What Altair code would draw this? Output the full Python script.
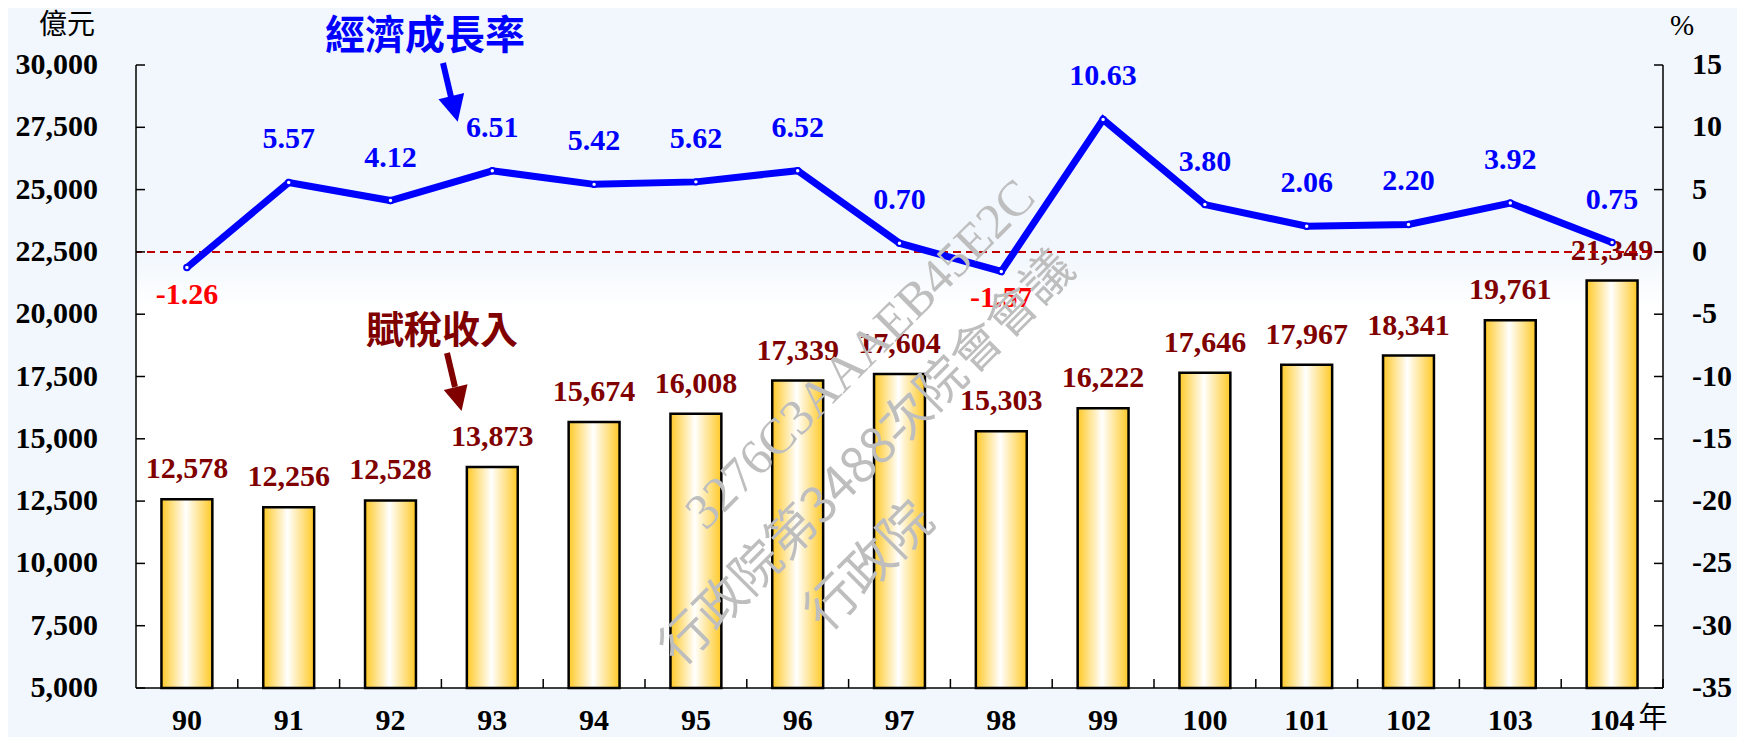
import altair as alt
import pandas as pd

# ---------------- data ----------------
years = ["90", "91", "92", "93", "94", "95", "96", "97", "98", "99", "100", "101", "102", "103", "104"]
revenue = [12578, 12256, 12528, 13873, 15674, 16008, 17339, 17604, 15303, 16222, 17646, 17967, 18341, 19761, 21349]
growth = [-1.26, 5.57, 4.12, 6.51, 5.42, 5.62, 6.52, 0.70, -1.57, 10.63, 3.80, 2.06, 2.20, 3.92, 0.75]
left_ticks = [5000, 7500, 10000, 12500, 15000, 17500, 20000, 22500, 25000, 27500, 30000]
right_ticks = [-35, -30, -25, -20, -15, -10, -5, 0, 5, 10, 15]
zero_line = [0]

W, H = 1527, 623
STEP = W / len(years)
SERIF = "Liberation Serif"
CJK = "Noto Sans CJK TC"

df = pd.DataFrame({"year": years, "revenue": revenue, "growth": growth})
df["rev_label"] = [f"{v:,}" for v in revenue]
df["g_label"] = [f"{v:.2f}" for v in growth]
df_pos = df[df["growth"] >= 0]
df_neg = df[df["growth"] < 0]
lt_df = pd.DataFrame({"v": left_ticks, "lab": [f"{v:,}" for v in left_ticks]})
rt_df = pd.DataFrame({"v": right_ticks, "lab": [str(v) for v in right_ticks]})

x_scale = alt.Scale(domain=years, paddingInner=0.5, paddingOuter=0.25)
left_scale = alt.Scale(domain=[5000, 30000], nice=False, zero=False)
right_scale = alt.Scale(domain=[-35, 15], nice=False, zero=False)

X = lambda **kw: alt.X("year:N", sort=years, scale=x_scale, axis=None, **kw)
YL = lambda f: alt.Y(f, scale=left_scale, axis=None)
YR = lambda f: alt.Y(f, scale=right_scale, axis=None)

one = pd.DataFrame({"k": [0]})

# ---------------- background band (white lower plot area) ----------------
bg = alt.Chart(one).mark_rect(
    color=alt.Gradient(gradient="linear",
                       stops=[alt.GradientStop(color="#F1F7FD", offset=0),
                              alt.GradientStop(color="#FFFFFF", offset=0.12),
                              alt.GradientStop(color="#FFFFFF", offset=1)],
                       x1=0, x2=0, y1=0, y2=1)
).encode(x=alt.value(0), x2=alt.value(W), y=alt.value(190), y2=alt.value(H))

# ---------------- left (revenue) layers ----------------
bar_grad = alt.Gradient(gradient="linear",
                        stops=[alt.GradientStop(color="#FFC926", offset=0),
                               alt.GradientStop(color="#FFFFFF", offset=0.48),
                               alt.GradientStop(color="#FFC926", offset=1)],
                        x1=0, x2=1, y1=0, y2=0)

bars = alt.Chart(df).mark_bar(color=bar_grad, stroke="black", strokeWidth=2.5).encode(
    x=X(), y=YL("revenue:Q"), y2=alt.datum(5000))
bar_labels = alt.Chart(df).mark_text(font=SERIF, fontSize=30, fontWeight="bold", color="#800000",
                                     baseline="middle", dy=-30).encode(
    x=X(), y=YL("revenue:Q"), text="rev_label:N")

# axis lines, inward ticks and labels
axis_rule = dict(color="black", strokeWidth=1.5)
l_dom = alt.Chart(one).mark_rule(**axis_rule).encode(
    x=alt.value(0), y=alt.value(0), y2=alt.value(H))
r_dom = alt.Chart(one).mark_rule(**axis_rule).encode(
    x=alt.value(W), y=alt.value(0), y2=alt.value(H))
b_dom = alt.Chart(one).mark_rule(**axis_rule).encode(
    x=alt.value(0), x2=alt.value(W), y=alt.value(H))
lt = alt.Chart(lt_df).mark_rule(**axis_rule).encode(
    y=YL("v:Q"), x=alt.value(0), x2=alt.value(9))
lt_lab = alt.Chart(lt_df).mark_text(font=SERIF, fontSize=30, fontWeight="bold", color="black",
                                    align="right", baseline="middle").encode(
    y=YL("v:Q"), x=alt.value(-38), text="lab:N")
xt = alt.Chart(df).mark_rule(xOffset=STEP * 0.25, **axis_rule).encode(
    x=X(bandPosition=1), y=alt.value(H - 9), y2=alt.value(H))
x_lab = alt.Chart(df).mark_text(font=SERIF, fontSize=30, fontWeight="bold", color="black",
                                baseline="middle").encode(
    x=X(), y=alt.value(H + 33), text="year:N")

# ---------------- right (growth) layers ----------------
zero = alt.Chart(pd.DataFrame({"v": zero_line})).mark_rule(
    color="#C00000", strokeDash=[8, 5], strokeWidth=2).encode(y=YR("v:Q"))
line = alt.Chart(df).mark_line(color="#0000FF", strokeWidth=7).encode(
    x=X(), y=YR("growth:Q"))
pts = alt.Chart(df).mark_point(filled=True, fill="white", stroke="#0000FF", strokeWidth=2,
                               size=30, opacity=1).encode(x=X(), y=YR("growth:Q"))
pos_lab = alt.Chart(df_pos).mark_text(font=SERIF, fontSize=30, fontWeight="bold", color="#0000FF",
                                      baseline="middle", dy=-43).encode(
    x=X(), y=YR("growth:Q"), text="g_label:N")
neg_lab = alt.Chart(df_neg).mark_text(font=SERIF, fontSize=30, fontWeight="bold", color="#FF0000",
                                      baseline="middle", dy=27).encode(
    x=X(), y=YR("growth:Q"), text="g_label:N")
rt = alt.Chart(rt_df).mark_rule(**axis_rule).encode(
    y=YR("v:Q"), x=alt.value(W - 9), x2=alt.value(W))
rt_lab = alt.Chart(rt_df).mark_text(font=SERIF, fontSize=30, fontWeight="bold", color="black",
                                    align="left", baseline="middle").encode(
    y=YR("v:Q"), x=alt.value(W + 29), text="lab:N")

# ---------------- annotations ----------------
def txt(s, x, y, size, color, font=CJK, weight="bold", angle=0, opacity=1):
    return alt.Chart(one).mark_text(text=s, font=font, fontSize=size, fontWeight=weight,
                                    color=color, align="center", baseline="middle",
                                    angle=angle, opacity=opacity).encode(
        x=alt.value(x), y=alt.value(y))

unit_l = txt("億元", -69, -39, 28, "black", weight="normal")
unit_r = txt("%", W + 19, -39, 29, "black", font=SERIF, weight="normal")
title_g = txt("經濟成長率", 289, -28, 40, "#0000FF")
title_r = txt("賦稅收入", 306, 267, 38, "#800000")
nian = txt("年", 1517, 654, 29, "black", weight="normal")

arrow_g_shaft = alt.Chart(one).mark_rule(color="#0000FF", strokeWidth=6).encode(
    x=alt.value(307), y=alt.value(-2), x2=alt.value(315), y2=alt.value(32))
arrow_g_head = alt.Chart(one).mark_point(shape="M-1,-1L1,-1L0,1Z", filled=True, color="#0000FF",
                                         opacity=1, size=700, angle=346).encode(
    x=alt.value(318.5), y=alt.value(44))
arrow_r_shaft = alt.Chart(one).mark_rule(color="#800000", strokeWidth=6).encode(
    x=alt.value(311), y=alt.value(288), x2=alt.value(319), y2=alt.value(322))
arrow_r_head = alt.Chart(one).mark_point(shape="M-1,-1L1,-1L0,1Z", filled=True, color="#800000",
                                         opacity=1, size=600, angle=346).encode(
    x=alt.value(322.6), y=alt.value(334))

wm_color = "#BEBEBE"
wm1 = txt("3276C3AAAEB45E2C", 725, 290, 50, wm_color, font=SERIF, weight="normal", angle=315)
wm2 = txt("行政院第3488次院會會議", 732, 394, 50, wm_color, font=CJK, weight="normal", angle=315)
wm3 = txt("行政院", 734, 502, 52, wm_color, font=CJK, weight="normal", angle=315)

chart = alt.layer(
    bg, bars, bar_labels,
    zero, line, pts, pos_lab, neg_lab,
    l_dom, r_dom, b_dom, lt, rt, xt, lt_lab, rt_lab, x_lab,
    unit_l, unit_r, nian,
    title_g, arrow_g_shaft, arrow_g_head,
    title_r, arrow_r_shaft, arrow_r_head,
    wm1, wm2, wm3,
).resolve_scale(y="independent").properties(
    width=W, height=H,
    autosize=alt.AutoSizeParams(type="none"),
    padding={"left": 128, "top": 57, "right": 74, "bottom": 49},
    background="#F1F7FD",
).configure_view(strokeWidth=0)

chart.save("out.html", embed_options={"renderer": "svg", "actions": False})
